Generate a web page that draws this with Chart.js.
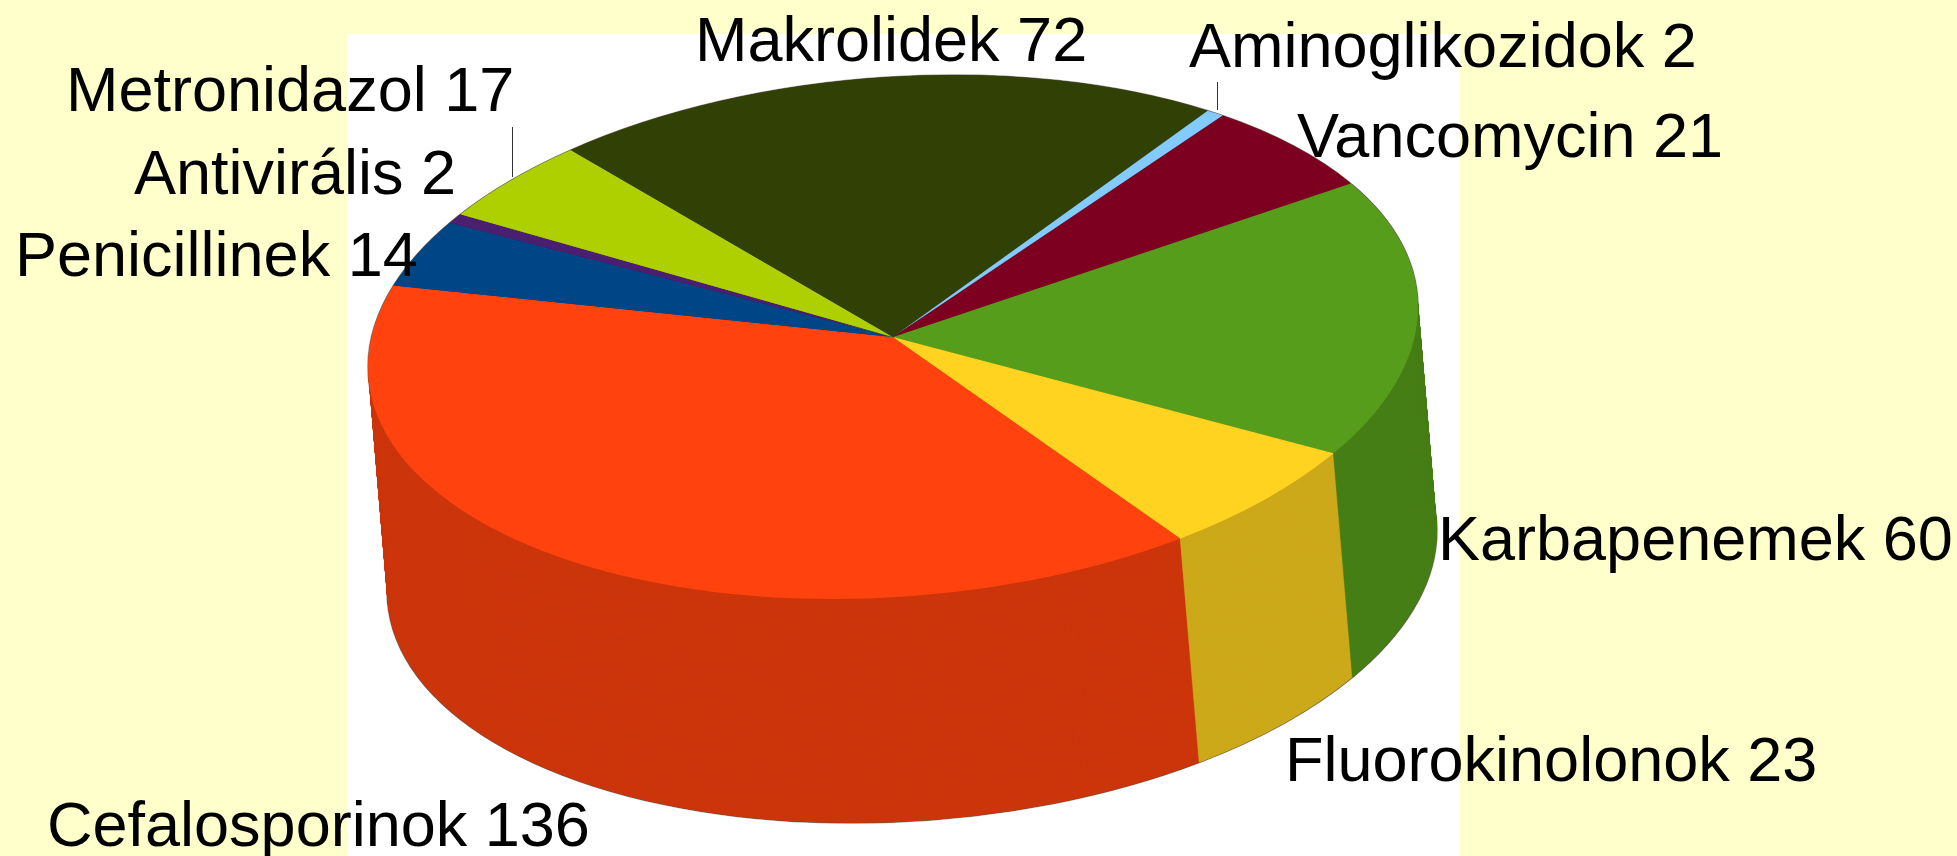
<!DOCTYPE html>
<html>
<head>
<meta charset="utf-8">
<style>html,body{margin:0;padding:0;background:#ffffcc}canvas{display:block}</style>
<script src="https://cdn.jsdelivr.net/npm/chart.js@4/dist/chart.umd.min.js"></script>
</head>
<body>
<canvas id="c" width="1957" height="856"></canvas>
<script>
const categories = ["Cefalosporinok","Penicillinek","Antivirális","Metronidazol","Makrolidek","Aminoglikozidok","Vancomycin","Karbapenemek","Fluorokinolonok"];
const values = [136,14,2,17,72,2,21,60,23];
const topColors = ["#ff420e","#004586","#4b1f6f","#aecf00","#314004","#83caff","#7e0021","#579d1c","#ffd320"];
const sideColors = ["#cc350b","#00376b","#3c1959","#8ba600","#273303","#69a2cc","#65001a","#467e16","#cca91a"];

/* layout, separate from the data */
const labelPos = [[47,846],[15,276],[134,194],[66,111],[695,61],[1189,67],[1297,157],[1438,560],[1285,781]];
const leaders = [[512.5,127,512.5,177],[1217.5,82,1217.5,110]];
const disc = {x:893, y:337, a:525, c:-30, d:260.3, depth:224, shear:19};

function place(ctx, arc, dx, dy){
  const r = arc.outerRadius;
  ctx.translate(disc.x+dx, disc.y+dy);
  ctx.transform(disc.a/r, disc.c/r, 0, disc.d/r, 0, 0);
  ctx.translate(-arc.x, -arc.y);
}
function drawLayer(ctx, arcs, dx, dy, colorOf){
  arcs.forEach((arc,i)=>{
    const saved = arc.options;
    const o = Object.create(saved);
    o.backgroundColor = colorOf(i);
    o.borderColor = colorOf(i);
    arc.options = o;
    ctx.save();
    place(ctx, arc, dx, dy);
    arc.draw(ctx);
    ctx.restore();
    arc.options = saved;
  });
}

const pie3d = {
  id:'pie3d',
  beforeDraw(chart){
    const ctx = chart.ctx;
    ctx.save();
    ctx.fillStyle = '#ffffcc';
    ctx.fillRect(0,0,1957,856);
    ctx.fillStyle = '#ffffff';
    ctx.fillRect(347,34,1113,822);
    ctx.restore();
  },
  beforeDatasetDraw(chart, args){
    const ctx = chart.ctx, arcs = args.meta.data;
    /* thin dark rim round the silhouette */
    const rim = () => 'rgba(30,15,0,0.45)';
    drawLayer(ctx, arcs, disc.shear, disc.depth+0.8, rim);
    drawLayer(ctx, arcs, disc.shear+0.8, disc.depth, rim);
    drawLayer(ctx, arcs, disc.shear-0.8, disc.depth, rim);
    drawLayer(ctx, arcs, 0, -0.8, rim);
    drawLayer(ctx, arcs, -0.8, 0, rim);
    drawLayer(ctx, arcs, 0.8, 0, rim);
    for (let k = disc.depth; k >= 1; k--){
      drawLayer(ctx, arcs, disc.shear*k/disc.depth, k, i=>sideColors[i]);
    }
    ctx.save();
    place(ctx, arcs[0], 0, 0);
  },
  afterDatasetDraw(chart){ chart.ctx.restore(); },
  afterDraw(chart){
    const ctx = chart.ctx;
    ctx.save();
    ctx.strokeStyle = '#333333';
    ctx.lineWidth = 1;
    leaders.forEach(l=>{ctx.beginPath();ctx.moveTo(l[0],l[1]);ctx.lineTo(l[2],l[3]);ctx.stroke();});
    ctx.fillStyle = '#000000';
    ctx.font = '63px "Liberation Sans"';
    ctx.textAlign = 'left';
    ctx.textBaseline = 'alphabetic';
    categories.forEach((n,i)=>ctx.fillText(n+' '+values[i], labelPos[i][0], labelPos[i][1]));
    ctx.restore();
  }
};

new Chart(document.getElementById('c'),{
  type:'pie',
  data:{labels:categories,datasets:[{data:values,backgroundColor:topColors,borderWidth:0,clip:false}]},
  options:{
    responsive:false,animation:false,rotation:146.8,
    layout:{padding:0},
    plugins:{legend:{display:false},tooltip:{enabled:false},title:{display:false}}
  },
  plugins:[pie3d]
});
</script>
</body>
</html>
